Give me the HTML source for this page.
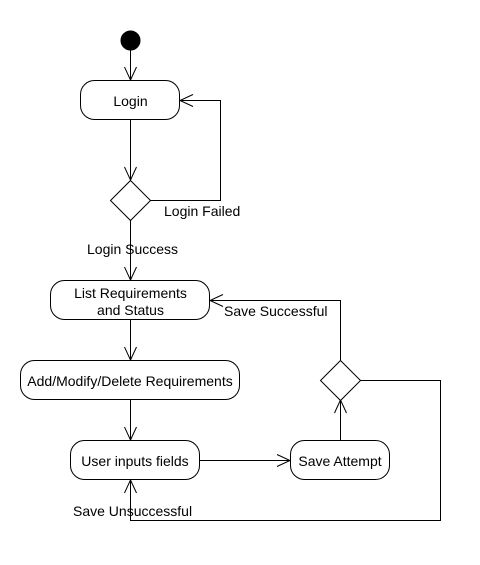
<!DOCTYPE html>
<html><head><meta charset="utf-8"><style>
html,body{margin:0;padding:0;background:#fff;}
text{font-family:"Liberation Sans",Arial,sans-serif;font-size:14px;fill:#000;}
</style></head><body>
<svg width="480" height="560" xmlns="http://www.w3.org/2000/svg">
<g fill="none" stroke="#000" stroke-width="1">
<circle cx="130.5" cy="40.5" r="9.5" fill="#000"/>
<line x1="130.5" y1="50" x2="130.5" y2="80"/>
<polyline points="124.5,67 130.5,80 136.5,67"/>
<rect x="80.5" y="80.5" width="99" height="39" rx="14" fill="#fff"/>
<line x1="130.5" y1="120" x2="130.5" y2="180"/>
<polyline points="124.5,167 130.5,180 136.5,167"/>
<polygon points="130.5,180.5 150.5,200.5 130.5,220.5 110.5,200.5" fill="#fff"/>
<polyline points="150.5,200.5 220.5,200.5 220.5,100.5 180,100.5"/>
<polyline points="193,94.5 180,100.5 193,106.5"/>
<line x1="130.5" y1="220" x2="130.5" y2="280"/>
<polyline points="124.5,267 130.5,280 136.5,267"/>
<rect x="50.5" y="280.5" width="159" height="39" rx="14" fill="#fff"/>
<polyline points="340.5,360 340.5,300.5 210,300.5"/>
<polyline points="223,294.5 210,300.5 223,306.5"/>
<line x1="130.5" y1="320" x2="130.5" y2="360"/>
<polyline points="124.5,347 130.5,360 136.5,347"/>
<rect x="20.5" y="360.5" width="219" height="39" rx="14" fill="#fff"/>
<line x1="130.5" y1="400" x2="130.5" y2="440"/>
<polyline points="124.5,427 130.5,440 136.5,427"/>
<rect x="70.5" y="440.5" width="129" height="39" rx="14" fill="#fff"/>
<line x1="200" y1="460.5" x2="290" y2="460.5"/>
<polyline points="277,454.5 290,460.5 277,466.5"/>
<rect x="290.5" y="440.5" width="99" height="39" rx="14" fill="#fff"/>
<line x1="340.5" y1="440" x2="340.5" y2="400"/>
<polyline points="334.5,413 340.5,400 346.5,413"/>
<polygon points="340.5,360.5 360.5,380.5 340.5,400.5 320.5,380.5" fill="#fff"/>
<polyline points="360.5,380.5 440.5,380.5 440.5,520.5 130.5,520.5 130.5,480"/>
<polyline points="124.5,493 130.5,480 136.5,493"/>
</g>
<text x="130.5" y="106" text-anchor="middle">Login</text>
<text x="164" y="216">Login Failed</text>
<text x="87" y="254">Login Success</text>
<text x="130.5" y="298" text-anchor="middle">List Requirements</text>
<text x="130.5" y="315" text-anchor="middle">and Status</text>
<text x="224" y="316">Save Successful</text>
<text x="130" y="386" text-anchor="middle">Add/Modify/Delete Requirements</text>
<text x="135" y="466" text-anchor="middle">User inputs fields</text>
<text x="340" y="466" text-anchor="middle">Save Attempt</text>
<text x="73" y="516">Save Unsuccessful</text>
</svg>
</body></html>
